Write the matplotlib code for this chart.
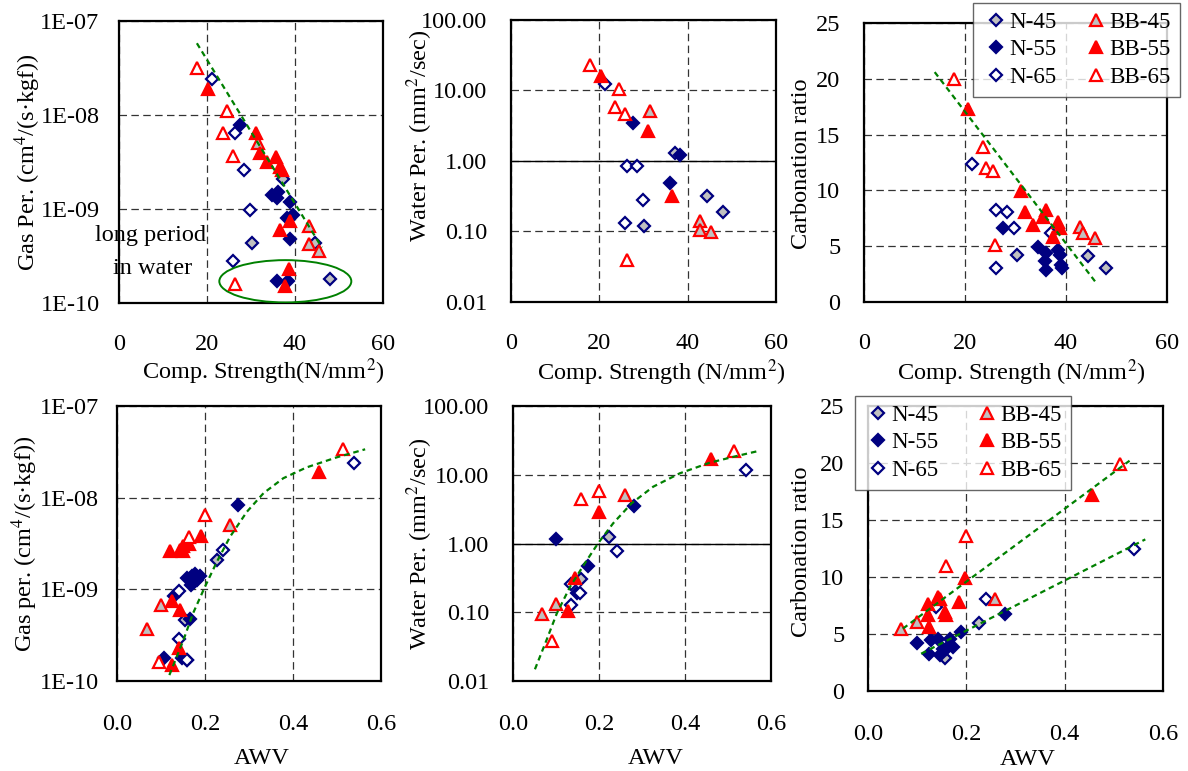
import matplotlib
matplotlib.use('Agg')
import matplotlib.pyplot as plt
from matplotlib.patches import Ellipse

plt.rcParams['font.family'] = ['Liberation Serif', 'DejaVu Serif']
plt.rcParams['mathtext.fontset'] = 'stix'
plt.rcParams['font.size'] = 17.5

SERIES = ['N-45', 'N-55', 'N-65', 'BB-45', 'BB-55', 'BB-65']

# ---- top row: compressive strength (N/mm2) ----
cs_gas_x = {
    'N-45': [37.3, 30.3, 44.5, 48.0],
    'N-55': [27.5, 34.8, 36.1, 35.9, 38.8, 39.5, 38.2, 38.8, 35.9, 38.3],
    'N-65': [21.2, 26.3, 28.5, 29.8, 25.8],
    'BB-45': [31.6, 43.2, 43.2, 45.4],
    'BB-55': [20.3, 31.2, 32.0, 33.6, 35.6, 36.5, 37.0, 38.8, 36.5, 38.6, 37.8],
    'BB-65': [17.7, 24.5, 23.6, 25.8, 26.3],
}
cs_gas_y = {
    'N-45': [2.1e-9, 4.4e-10, 4.4e-10, 1.8e-10],
    'N-55': [7.9e-9, 1.4e-9, 1.5e-9, 1.3e-9, 1.2e-9, 8.7e-10, 8.0e-10, 4.8e-10, 1.7e-10, 1.7e-10],
    'N-65': [2.4e-8, 6.5e-9, 2.6e-9, 9.8e-10, 2.8e-10],
    'BB-45': [5.0e-9, 6.6e-10, 4.2e-10, 3.6e-10],
    'BB-55': [1.9e-8, 6.4e-9, 3.9e-9, 3.2e-9, 3.6e-9, 2.8e-9, 2.6e-9, 7.4e-10, 6.0e-10, 2.3e-10, 1.5e-10],
    'BB-65': [3.2e-8, 1.1e-8, 6.5e-9, 3.7e-9, 1.6e-10],
}
cs_gas_trend_x = [17.7, 46.1]
cs_gas_trend_y = [5.8e-8, 3.9e-10]

cs_water_x = {
    'N-45': [37.2, 30.2, 44.4, 47.9],
    'N-55': [27.6, 38.2, 35.9],
    'N-65': [21.3, 26.2, 28.5, 29.8, 25.8],
    'BB-45': [31.5, 42.9, 42.9, 45.3],
    'BB-55': [20.3, 31.1, 36.4],
    'BB-65': [17.8, 24.5, 23.6, 25.7, 26.2],
}
cs_water_y = {
    'N-45': [1.30, 0.12, 0.32, 0.19],
    'N-55': [3.5, 1.23, 0.48],
    'N-65': [12.2, 0.84, 0.84, 0.28, 0.13],
    'BB-45': [5.1, 0.14, 0.106, 0.097],
    'BB-55': [16.3, 2.7, 0.32],
    'BB-65': [22.7, 10.6, 5.9, 4.6, 0.040],
}

cs_carb_x = {
    'N-45': [30.2, 44.4, 48.0],
    'N-55': [27.5, 34.4, 36.1, 35.8, 36.1, 38.4, 38.8, 39.1, 39.3],
    'N-65': [21.3, 26.2, 28.3, 29.8, 26.1, 37.1],
    'BB-45': [42.7, 43.4, 45.7],
    'BB-55': [20.5, 31.0, 31.8, 33.5, 36.1, 35.4, 38.4, 38.8, 37.4],
    'BB-65': [17.8, 23.6, 24.2, 25.5, 25.9],
}
cs_carb_y = {
    'N-45': [4.23, 4.08, 3.04],
    'N-55': [6.6, 4.97, 4.38, 3.63, 2.89, 4.67, 4.23, 3.33, 3.07],
    'N-65': [12.4, 8.25, 8.1, 6.6, 3.04, 6.17],
    'BB-45': [6.76, 6.17, 5.72],
    'BB-55': [17.25, 9.95, 8.10, 6.9, 8.25, 7.65, 7.2, 6.6, 5.86],
    'BB-65': [20.0, 13.9, 12.0, 11.7, 5.07],
}
cs_carb_trend_x = [14.0, 45.9]
cs_carb_trend_y = [20.6, 1.76]

# ---- bottom row: AWV ----
awv_gas_x = {
    'N-45': [0.227, 0.155, 0.160],
    'N-55': [0.276, 0.159, 0.170, 0.178, 0.188, 0.174, 0.168, 0.181, 0.129, 0.166, 0.106, 0.148],
    'N-65': [0.539, 0.240, 0.140, 0.140, 0.159],
    'BB-45': [0.257, 0.100, 0.068],
    'BB-55': [0.458, 0.191, 0.121, 0.144, 0.151, 0.163, 0.151, 0.125, 0.144, 0.140, 0.125],
    'BB-65': [0.514, 0.200, 0.163, 0.095],
}
awv_gas_y = {
    'N-45': [2.1e-9, 4.6e-10, 1.7e-10],
    'N-55': [8.3e-9, 1.32e-9, 1.41e-9, 1.48e-9, 1.41e-9, 1.2e-9, 1.12e-9, 1.26e-9, 8.5e-10, 4.8e-10, 1.8e-10, 1.8e-10],
    'N-65': [2.4e-8, 2.7e-9, 9.5e-10, 2.9e-10, 1.7e-10],
    'BB-45': [5.0e-9, 6.7e-10, 3.7e-10],
    'BB-55': [1.9e-8, 3.8e-9, 2.6e-9, 2.7e-9, 3.0e-9, 3.1e-9, 2.6e-9, 7.4e-10, 5.9e-10, 2.3e-10, 1.5e-10],
    'BB-65': [3.4e-8, 6.5e-9, 3.7e-9, 1.6e-10],
}
awv_gas_trend_x = [0.119, 0.151, 0.173, 0.200, 0.227, 0.257, 0.295, 0.333, 0.378, 0.431, 0.499, 0.564]
awv_gas_trend_y = [1.16e-10, 2.8e-10, 5.5e-10, 1.07e-9, 2.0e-9, 3.75e-9, 7.0e-9, 1.12e-8, 1.63e-8, 2.14e-8, 2.75e-8, 3.37e-8]

awv_water_x = {
    'N-45': [0.223, 0.159],
    'N-55': [0.282, 0.101, 0.175, 0.148],
    'N-65': [0.542, 0.242, 0.136, 0.136, 0.155],
    'BB-45': [0.260, 0.101, 0.068],
    'BB-55': [0.460, 0.200, 0.128, 0.144],
    'BB-65': [0.514, 0.200, 0.159, 0.091],
}
awv_water_y = {
    'N-45': [1.24, 0.30],
    'N-55': [3.5, 1.17, 0.47, 0.19],
    'N-65': [11.6, 0.79, 0.26, 0.126, 0.19],
    'BB-45': [5.1, 0.133, 0.094],
    'BB-55': [17.1, 2.9, 0.103, 0.32],
    'BB-65': [21.9, 5.9, 4.5, 0.038],
}
awv_water_trend_x = [0.051, 0.078, 0.102, 0.133, 0.167, 0.198, 0.233, 0.276, 0.326, 0.388, 0.458, 0.520, 0.574]
awv_water_trend_y = [0.0148, 0.0394, 0.0966, 0.236, 0.515, 1.01, 1.97, 3.85, 6.70, 10.5, 15.0, 18.7, 22.4]

awv_carb_x = {
    'N-45': [0.225, 0.157],
    'N-55': [0.278, 0.100, 0.129, 0.125, 0.153, 0.166, 0.190, 0.146, 0.142, 0.173, 0.159],
    'N-65': [0.540, 0.239, 0.139],
    'BB-45': [0.258, 0.100, 0.068],
    'BB-55': [0.456, 0.197, 0.186, 0.122, 0.142, 0.146, 0.156, 0.159, 0.122, 0.125],
    'BB-65': [0.512, 0.199, 0.159],
}
awv_carb_y = {
    'N-45': [5.96, 2.9],
    'N-55': [6.79, 4.21, 4.45, 3.28, 3.72, 4.6, 5.18, 3.13, 4.6, 3.86, 3.71],
    'N-65': [12.49, 8.1, 7.37],
    'BB-45': [8.1, 6.05, 5.47],
    'BB-55': [17.2, 9.9, 7.81, 7.67, 8.25, 8.1, 6.93, 6.64, 6.64, 5.61],
    'BB-65': [19.94, 13.6, 11.0],
}
awv_carb_bb_trend_x = [0.071, 0.532]
awv_carb_bb_trend_y = [5.47, 20.2]
awv_carb_n_trend_x = [0.108, 0.564]
awv_carb_n_trend_y = [3.27, 13.3]

# ---- ticks ----
cs_ticks = [0, 20, 40, 60]
cs_ticklabels = ['0', '20', '40', '60']
awv_ticks = [0.0, 0.2, 0.4, 0.6]
awv_ticklabels = ['0.0', '0.2', '0.4', '0.6']
gas_ticks = [1e-10, 1e-9, 1e-8, 1e-7]
gas_ticklabels = ['1E-10', '1E-09', '1E-08', '1E-07']
water_ticks = [0.01, 0.1, 1, 10, 100]
water_ticklabels = ['0.01', '0.10', '1.00', '10.00', '100.00']
carb_ticks = [0, 5, 10, 15, 20, 25]
carb_ticklabels = ['0', '5', '10', '15', '20', '25']

NAVY = '#000080'
RED = '#ff0000'
GRAY = '#c0c0c0'
STYLE = {
    'N-45': dict(marker='D', mfc=GRAY, mec=NAVY, ms=6.2),
    'N-55': dict(marker='D', mfc=NAVY, mec=NAVY, ms=6.2),
    'N-65': dict(marker='D', mfc='white', mec=NAVY, ms=6.2),
    'BB-45': dict(marker='^', mfc=GRAY, mec=RED, ms=8.5),
    'BB-55': dict(marker='^', mfc=RED, mec=RED, ms=8.5),
    'BB-65': dict(marker='^', mfc='white', mec=RED, ms=8.5),
}
FS = 17.5


def setup(ax, xt, xtl, yt, ytl, log, xlab, ylab, xlab_pos, ylab_pos, ypad, xpad=24):
    if log:
        ax.set_yscale('log')
    ax.set_xlim(xt[0], xt[-1])
    ax.set_ylim(yt[0], yt[-1])
    ax.set_xticks(xt)
    ax.set_xticklabels(xtl)
    ax.set_yticks(yt)
    ax.set_yticklabels(ytl)
    ax.minorticks_off()
    ax.tick_params(length=0, labelsize=FS)
    ax.tick_params(axis='x', pad=xpad)
    ax.tick_params(axis='y', pad=ypad)
    ax.grid(True, color='#333333', lw=0.9, linestyle=(0, (6, 3.5)))
    ax.set_axisbelow(True)
    for s in ax.spines.values():
        s.set_linewidth(1.6)
        s.set_color('black')
    ax.set_xlabel(xlab, fontsize=FS)
    ax.set_ylabel(ylab, fontsize=FS)
    ax.xaxis.set_label_coords(*xlab_pos)
    ax.yaxis.set_label_coords(*ylab_pos)
    ax.xaxis.label.set_va('center')
    ax.yaxis.label.set_va('center')


def scatter(ax, xs, ys):
    handles = []
    for k in SERIES:
        h, = ax.plot(xs[k], ys[k], linestyle='none', mew=1.6, label=k,
                     clip_on=False, zorder=3, **STYLE[k])
        handles.append(h)
    return handles


def trend(ax, x, y):
    ax.plot(x, y, color='#008000', lw=1.6, linestyle=(0, (2.5, 1.8)), zorder=4)


fig = plt.figure(figsize=(11.88, 7.71), dpi=100)
W, H = 1188, 771


def px_axes(x0, y0, x1, y1):
    return fig.add_axes([x0 / W, 1 - y1 / H, (x1 - x0) / W, (y1 - y0) / H])


ax1 = px_axes(119, 21, 383, 303)
ax2 = px_axes(511, 20, 776, 302)
ax3 = px_axes(864, 23, 1167, 302)
ax4 = px_axes(117, 406, 381, 681)
ax5 = px_axes(513, 406, 771, 681)
ax6 = px_axes(868, 406, 1163, 691)

gas_top = 'Gas Per. (cm$^{4}$/(s·kgf))'
gas_bot = 'Gas per. (cm$^{4}$/(s·kgf))'
water_lab = 'Water Per. (mm$^{2}$/sec)'
carb_lab = 'Carbonation ratio'

setup(ax1, cs_ticks, cs_ticklabels, gas_ticks, gas_ticklabels, True,
      'Comp. Strength(N/mm$^{2}$)', gas_top, (0.545, -0.245), (-0.345, 0.5), 14, 22)
setup(ax2, cs_ticks, cs_ticklabels, water_ticks, water_ticklabels, True,
      'Comp. Strength (N/mm$^{2}$)', water_lab, (0.566, -0.252), (-0.343, 0.59), 17, 22)
setup(ax3, cs_ticks, cs_ticklabels, carb_ticks, carb_ticklabels, False,
      'Comp. Strength (N/mm$^{2}$)', carb_lab, (0.52, -0.255), (-0.205, 0.495), 17, 22)
setup(ax4, awv_ticks, awv_ticklabels, gas_ticks, gas_ticklabels, True,
      'AWV', gas_bot, (0.55, -0.28), (-0.348, 0.5), 13)
setup(ax5, awv_ticks, awv_ticklabels, water_ticks, water_ticklabels, True,
      'AWV', water_lab, (0.555, -0.28), (-0.36, 0.5), 17)
setup(ax6, awv_ticks, awv_ticklabels, carb_ticks, carb_ticklabels, False,
      'AWV', carb_lab, (0.54, -0.24), (-0.224, 0.49), 17)

for ax in (ax2, ax5):
    ax.axhline(1.0, color='black', lw=1.0, zorder=1)

scatter(ax1, cs_gas_x, cs_gas_y)
trend(ax1, cs_gas_trend_x, cs_gas_trend_y)
ax1.add_patch(Ellipse((0.63, 0.077), 0.5, 0.15, transform=ax1.transAxes,
                      fill=False, edgecolor='#008000', lw=1.4, zorder=5))
ax1.text(0.12, 0.241, 'long period', transform=ax1.transAxes, ha='center',
         va='center', fontsize=FS, clip_on=False)
ax1.text(0.129, 0.124, 'in water', transform=ax1.transAxes, ha='center',
         va='center', fontsize=FS, clip_on=False)

scatter(ax2, cs_water_x, cs_water_y)

h3 = scatter(ax3, cs_carb_x, cs_carb_y)
trend(ax3, cs_carb_trend_x, cs_carb_trend_y)

scatter(ax4, awv_gas_x, awv_gas_y)
trend(ax4, awv_gas_trend_x, awv_gas_trend_y)

scatter(ax5, awv_water_x, awv_water_y)
trend(ax5, awv_water_trend_x, awv_water_trend_y)

h6 = scatter(ax6, awv_carb_x, awv_carb_y)
trend(ax6, awv_carb_bb_trend_x, awv_carb_bb_trend_y)
trend(ax6, awv_carb_n_trend_x, awv_carb_n_trend_y)

leg_kw = dict(ncol=2, fontsize=16.5, frameon=True, fancybox=False,
              handlelength=1.2, handletextpad=0.0,
              labelspacing=0.27, borderpad=0.4, borderaxespad=0,
              bbox_transform=fig.transFigure)
for loc, anchor, hs, colsp in (('upper right', (1180 / W, 1 - 3 / H), h3, 1.1),
                               ('upper left', (855 / W, 1 - 396 / H), h6, 1.5)):
    leg = fig.legend(hs, SERIES, loc=loc, bbox_to_anchor=anchor,
                     columnspacing=colsp, **leg_kw)
    leg.get_frame().set_edgecolor('#404040')
    leg.get_frame().set_linewidth(1.0)
    leg.set_zorder(10)

fig.savefig('out.png', dpi=100)
